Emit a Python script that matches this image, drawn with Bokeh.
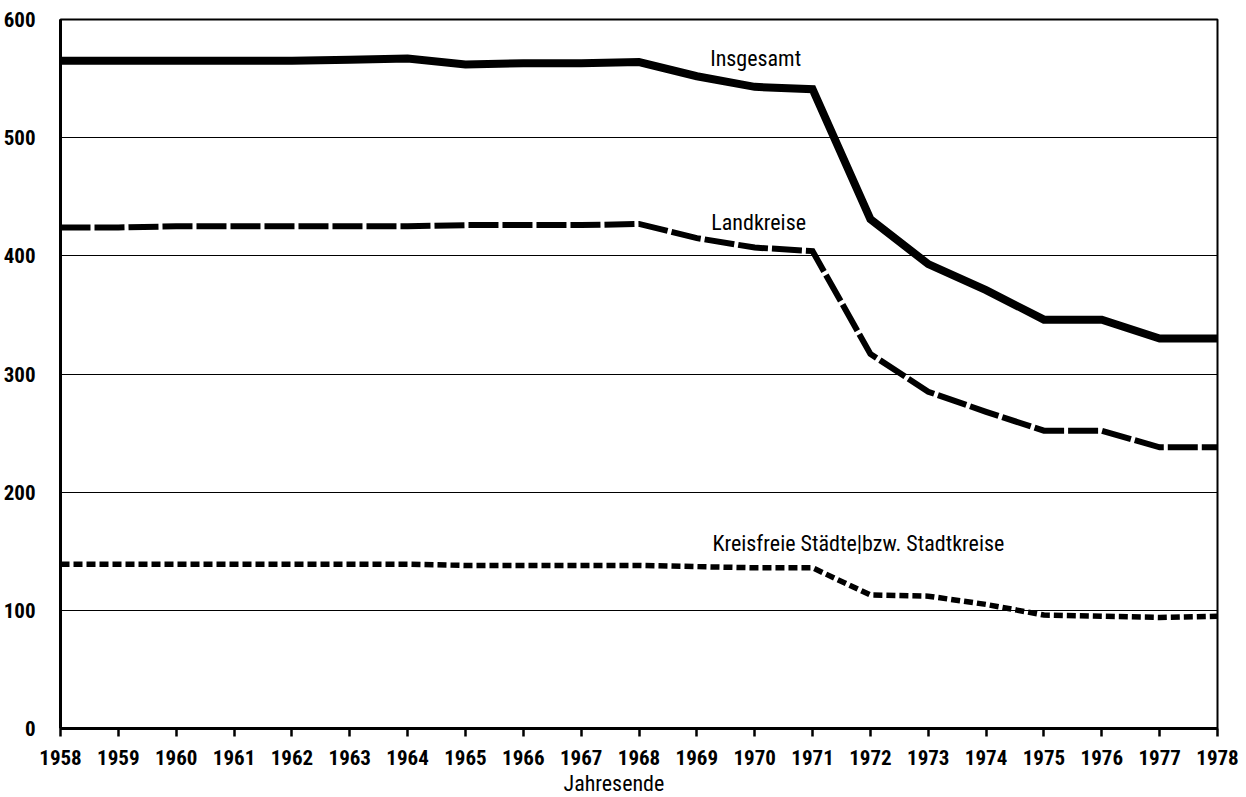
from bokeh.plotting import figure
from bokeh.models import Range1d, FixedTicker, Label, Title
from bokeh.embed import file_html
from bokeh.resources import INLINE

years = list(range(1958, 1979))
insgesamt = [565, 565, 565, 565, 565, 566, 567, 562, 563, 563, 564, 552, 543, 541,
             431, 393, 371, 346, 346, 330, 330]
landkreise = [424, 424, 425, 425, 425, 425, 425, 426, 426, 426, 427, 415, 407, 404,
              317, 285, 268, 252, 252, 238, 238]
kreisfreie = [139, 139, 139, 139, 139, 139, 139, 138, 138, 138, 138, 137, 136, 136,
              113, 112, 105, 96, 95, 94, 95]
y_ticks = [0, 100, 200, 300, 400, 500, 600]
series_labels = ["Insgesamt", "Landkreise", "Kreisfreie Städte|bzw. Stadtkreise"]
x_title = "Jahresende"

FONT = "Roboto Condensed, DejaVu Sans Condensed, Liberation Sans"

p = figure(width=1240, height=797, output_backend="svg", toolbar_location=None,
           x_range=Range1d(1958, 1978), y_range=Range1d(0, 600),
           min_border_left=60, min_border_right=23, min_border_top=19, min_border_bottom=69)
p.background_fill_color = "white"
p.border_fill_color = "white"
p.outline_line_color = "black"
p.outline_line_width = 2

p.xgrid.grid_line_color = None
p.ygrid.grid_line_color = "black"
p.ygrid.grid_line_width = 1.2
p.ygrid.ticker = FixedTicker(ticks=y_ticks)

p.xaxis.ticker = FixedTicker(ticks=years)
p.xaxis.axis_line_width = 3
p.xaxis.axis_line_color = "black"
p.xaxis.major_tick_line_width = 2.5
p.xaxis.major_tick_line_color = "black"
p.xaxis.major_tick_out = 8
p.xaxis.major_tick_in = 0
p.xaxis.minor_tick_line_color = None
p.xaxis.major_label_text_font = FONT
p.xaxis.major_label_text_font_style = "bold"
p.xaxis.major_label_text_font_size = "21px"
p.xaxis.major_label_text_color = "black"
p.xaxis.major_label_standoff = 13

p.yaxis.ticker = FixedTicker(ticks=y_ticks)
p.yaxis.axis_line_width = 3
p.yaxis.axis_line_color = "black"
p.yaxis.major_tick_out = 0
p.yaxis.major_tick_in = 0
p.yaxis.minor_tick_line_color = None
p.yaxis.major_label_text_font = FONT
p.yaxis.major_label_text_font_style = "bold"
p.yaxis.major_label_text_font_size = "21px"
p.yaxis.major_label_text_color = "black"
p.yaxis.major_label_standoff = 25

p.line(years, insgesamt, line_color="black", line_width=8, line_join="miter")
p.line(years, landkreise, line_color="black", line_width=6, line_dash="30 4", line_join="miter")
p.line(years, kreisfreie, line_color="black", line_width=5.5, line_dash="9 4", line_join="miter")

label_pos = [(1969.23, 567), (1969.25, 428), (1969.27, 156.5)]
for (lx, ly), txt in zip(label_pos, series_labels):
    p.add_layout(Label(x=lx, y=ly, text=txt, text_font=FONT, text_font_size="22px",
                       text_color="black", text_baseline="alphabetic", text_align="left"))

p.add_layout(Title(text=x_title, align="left", offset=503, text_font=FONT,
                   text_font_size="22px", text_font_style="normal", text_color="black",
                   standoff=2), "below")

open("out.html", "w").write(file_html(p, INLINE))
